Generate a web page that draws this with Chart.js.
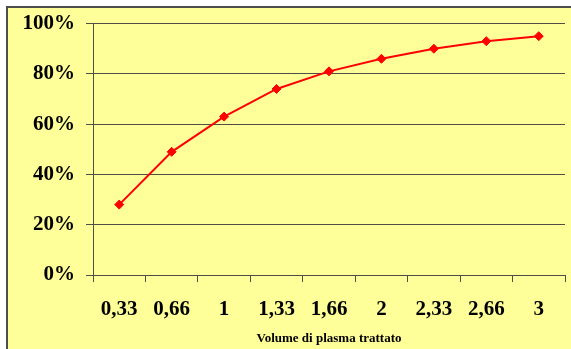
<!DOCTYPE html>
<html>
<head>
<meta charset="utf-8">
<script src="https://cdn.jsdelivr.net/npm/chart.js@4"></script>
<style>
  html, body { margin: 0; padding: 0; background: #fff; overflow: hidden; }
  #box {
    position: absolute; left: 6px; top: 6px; width: 600px; height: 400px;
    background: #FFFF99; border: 2px solid #4d4d4d;
  }
  #wrap { position: absolute; left: 0; top: 0; width: 571px; height: 349px; }
</style>
</head>
<body>
<div id="box"></div>
<div id="wrap"><canvas id="chart" width="571" height="349"></canvas></div>
<script>
// volumes of plasma treated, and fraction removed (%)
const volumes = ['0,33', '0,66', '1', '1,33', '1,66', '2', '2,33', '2,66', '3'];
const removed = [28, 49, 63, 74, 81, 86, 90, 93, 95];
const yTicks = [0, 20, 40, 60, 80, 100];

const gridColor = '#4f4f45';
const labelFont = { family: '"Liberation Serif", "Times New Roman", serif', size: 21, weight: 'bold' };

new Chart(document.getElementById('chart'), {
  type: 'line',
  data: {
    labels: volumes,
    datasets: [{
      data: removed,
      borderColor: '#ff0000',
      backgroundColor: '#ff0000',
      borderWidth: 2,
      pointStyle: 'rectRot',
      pointRadius: 4.5,
      pointBorderWidth: 1,
      lineTension: 0,
    }]
  },
  options: {
    responsive: false,
    animation: false,
    layout: { padding: { left: 0, top: 23, right: 6, bottom: 0 } },
    plugins: { legend: { display: false }, tooltip: { enabled: false } },
    scales: {
      x: {
        offset: true,
        grid: {
          offset: true, tickLength: 7, tickColor: gridColor,
          // only the closing line on the right runs through the plot
          color: ctx => ctx.index === volumes.length ? gridColor : 'rgba(0,0,0,0)'
        },
        border: { color: gridColor },
        ticks: { color: '#000', font: labelFont, padding: 15, maxRotation: 0, autoSkip: false },
        title: {
          display: true, text: 'Volume di plasma trattato', color: '#000',
          font: { family: '"Liberation Serif", "Times New Roman", serif', size: 13, weight: 'bold' },
          padding: { top: 0, bottom: 3 }
        },
        afterFit: scale => { scale.height = 74; }
      },
      y: {
        min: 0, max: 100,
        afterBuildTicks: scale => { scale.ticks = yTicks.map(v => ({ value: v })); },
        grid: { tickLength: 7, color: gridColor },
        border: { color: gridColor },
        ticks: { color: '#000', font: labelFont, padding: 11, callback: v => v + '%' },
        afterFit: scale => { scale.width = 93; }
      }
    }
  }
});
</script>
</body>
</html>
